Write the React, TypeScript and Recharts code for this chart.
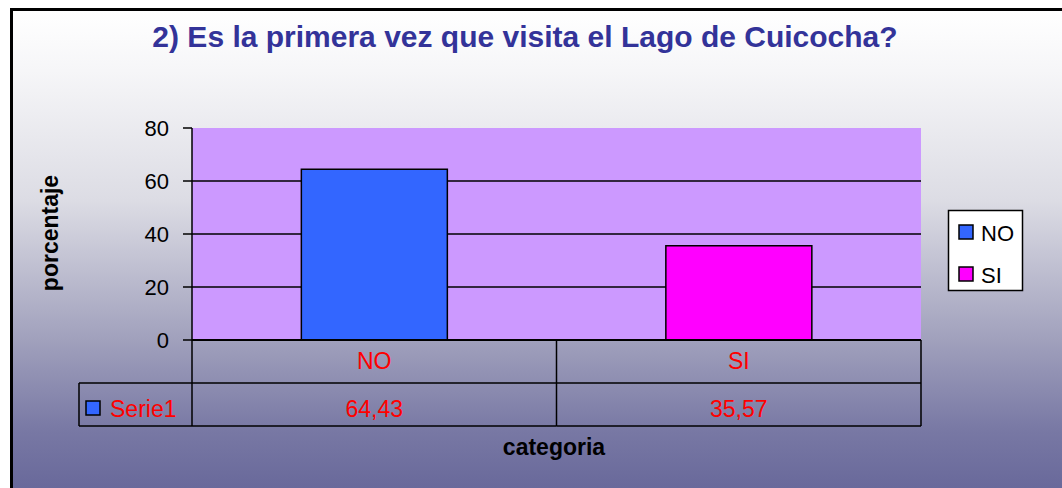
import React from 'react'
import { BarChart, Bar, Cell, XAxis, YAxis, CartesianGrid } from 'recharts'

const categories = ['NO', 'SI']
const values = [64.43, 35.57]
const barColors = ['#3366FF', '#FF00FF']
const yTicks = [0, 20, 40, 60, 80]
const gridValues = [20, 40, 60]
const seriesName = 'Serie1'
const title = '2) Es la primera vez que visita el Lago de Cuicocha?'
const yTitle = 'porcentaje'
const xTitle = 'categoria'

const W = 1062
const H = 488
const margin = { top: 128, right: 141, bottom: 62, left: 120 }
const Y_AXIS_W = 72
const PLOT_W = W - margin.left - Y_AXIS_W - margin.right
const FONT = '"Liberation Sans", Arial, sans-serif'

const data = categories.map((c, i) => ({ cat: c, value: values[i] }))

const fmt = (v: number) => v.toFixed(2).replace('.', ',')

// draws one column of the data table under the axis
function TableTick(props: any) {
  const { x, y, index, payload } = props
  const w = PLOT_W / categories.length
  const left = x - w / 2
  const right = x + w / 2
  const rowH = 43
  const last = index === categories.length - 1
  return (
    <g>
      <line x1={left} y1={y} x2={left} y2={y + rowH * 2} stroke="#000" strokeWidth={1.5} />
      {last && <line x1={right} y1={y} x2={right} y2={y + rowH * 2} stroke="#000" strokeWidth={1.5} />}
      <line x1={left} y1={y + rowH} x2={right} y2={y + rowH} stroke="#000" strokeWidth={1.5} />
      <line x1={left} y1={y + rowH * 2} x2={right} y2={y + rowH * 2} stroke="#000" strokeWidth={1.5} />
      <text x={x} y={y + 29} textAnchor="middle" fill="#FF0000" fontSize={23} fontFamily={FONT}>
        {payload.value}
      </text>
      <text x={x} y={y + 77} textAnchor="middle" fill="#FF0000" fontSize={23} fontFamily={FONT}>
        {fmt(values[index])}
      </text>
      {index === 0 && (
        <g>
          <line x1={left - 113} y1={y + rowH} x2={left} y2={y + rowH} stroke="#000" strokeWidth={1.5} />
          <line x1={left - 113} y1={y + rowH * 2} x2={left} y2={y + rowH * 2} stroke="#000" strokeWidth={1.5} />
          <line x1={left - 113} y1={y + rowH} x2={left - 113} y2={y + rowH * 2} stroke="#000" strokeWidth={1.5} />
          <rect x={left - 106} y={y + 61} width={14} height={14} fill={barColors[0]} stroke="#000" strokeWidth={1.5} />
          <text x={left - 82} y={y + 77} fill="#FF0000" fontSize={23} fontFamily={FONT}>
            {seriesName}
          </text>
        </g>
      )}
    </g>
  )
}

export default function App() {
  return (
    <div style={{ position: 'absolute', left: 0, top: 0, width: W, height: H, overflow: 'hidden' }}>
      <div
        style={{
          position: 'absolute',
          left: 10,
          top: 8,
          width: W,
          height: H,
          borderLeft: '3px solid #000',
          borderTop: '3px solid #000',
          background:
            'linear-gradient(to bottom, #FFFFFF 0px, #F6F6F8 60px, #DCDCE4 190px, #A0A0BC 330px, #7878A4 420px, #68689A 480px)',
        }}
      />
      <div style={{ position: 'absolute', left: 0, top: 0 }}>
        <BarChart width={W} height={H} data={data} margin={margin} barCategoryGap="30%">
          <CartesianGrid
            vertical={false}
            horizontalValues={gridValues}
            stroke="#000"
            strokeWidth={1.5}
            fill="#CC99FF"
            fillOpacity={1}
          />
          <XAxis
            dataKey="cat"
            interval={0}
            height={86}
            tickSize={0}
            tickMargin={0}
            tickLine={false}
            axisLine={{ stroke: '#000', strokeWidth: 2 }}
            tick={<TableTick />}
          />
          <XAxis
            xAxisId="t"
            dataKey="cat"
            orientation="top"
            height={0}
            tick={false}
            tickLine={false}
            axisLine={{ stroke: '#808080', strokeWidth: 2 }}
          />
          <YAxis
            domain={[0, 80]}
            ticks={yTicks}
            width={Y_AXIS_W}
            tickSize={9}
            tickMargin={14}
            axisLine={{ stroke: '#000', strokeWidth: 1.5 }}
            tickLine={{ stroke: '#000', strokeWidth: 1.5 }}
            tick={{ fill: '#000', fontSize: 22, fontFamily: FONT }}
          />
          <YAxis
            yAxisId="r"
            orientation="right"
            domain={[0, 80]}
            width={0}
            tick={false}
            tickLine={false}
            axisLine={{ stroke: '#808080', strokeWidth: 2 }}
          />
          <Bar dataKey="value" stroke="#000" strokeWidth={1.5} isAnimationActive={false}>
            {data.map((d, i) => (
              <Cell key={d.cat} fill={barColors[i]} />
            ))}
          </Bar>
        </BarChart>
      </div>
      <svg width={W} height={H} style={{ position: 'absolute', left: 0, top: 0, pointerEvents: 'none' }}>
        <text x={525} y={47} textAnchor="middle" fontSize={30} fontWeight="bold" fill="#333399" fontFamily={FONT}>
          {title}
        </text>
        <text
          transform="translate(58, 233) rotate(-90)"
          textAnchor="middle"
          fontSize={23}
          fontWeight="bold"
          fill="#000"
          fontFamily={FONT}
        >
          {yTitle}
        </text>
        <text x={554} y={455} textAnchor="middle" fontSize={23} fontWeight="bold" fill="#000" fontFamily={FONT}>
          {xTitle}
        </text>
        <rect x={948.5} y={210.5} width={74} height={80} fill="#FFFFFF" stroke="#000" strokeWidth={1.5} />
        {categories.map((c, i) => (
          <g key={c}>
            <rect x={959} y={225 + i * 42} width={14} height={14} fill={barColors[i]} stroke="#000" strokeWidth={1.5} />
            <text x={981} y={241 + i * 42} fontSize={22} fill="#000" fontFamily={FONT}>
              {c}
            </text>
          </g>
        ))}
      </svg>
    </div>
  )
}
